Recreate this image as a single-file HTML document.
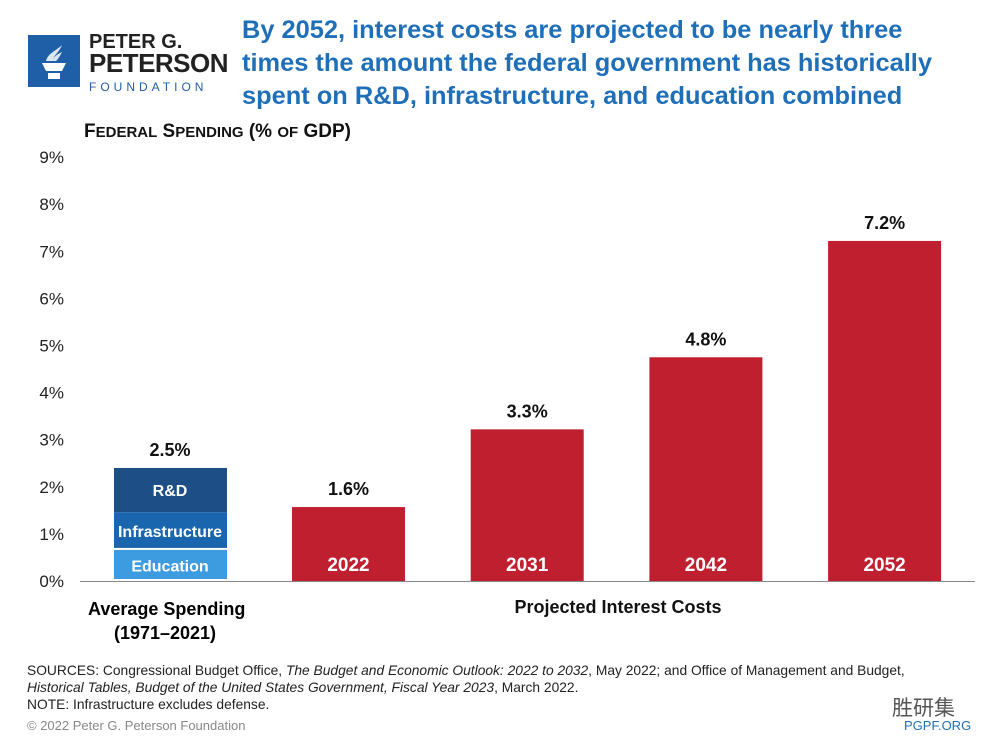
<!DOCTYPE html>
<html><head><meta charset="utf-8"><style>
body{margin:0;width:1000px;height:750px;background:#fff;font-family:"Liberation Sans",sans-serif;overflow:hidden;position:relative}
.t{position:absolute;white-space:nowrap}
</style></head><body>
<div class="t" style="left:28px;top:35px;width:52px;height:52px;background:#1f5fa8">
<svg width="52" height="52"><path d="M14 28h24l-4 8h-16z M20 38h12v6h-12z" fill="#fff"/><path d="M18 26c2-8 10-10 16-16c-2 6-8 10-10 16z M24 26c2-5 6-7 10-9c-2 4-4 7-6 9z" fill="#fff" opacity=".85"/></svg></div>
<div class="t" style="left:89px;top:33px;font-weight:bold;font-size:20px;line-height:18px;color:#222">PETER G.<br><span style="font-size:26px;line-height:25px;letter-spacing:-0.5px">PETERSON</span><br><span style="font-size:12px;letter-spacing:4px;color:#1f5fa8;font-weight:normal">FOUNDATION</span></div>
<div class="t" style="left:242px;top:14px;font-weight:bold;font-size:25.4px;line-height:33px;color:#1f6fb8">By 2052, interest costs are projected to be nearly three<br>times the amount the federal government has historically<br>spent on R&amp;D, infrastructure, and education combined</div>
<div class="t" style="left:84px;top:121px;font-weight:bold;font-size:19px;color:#111">F<span style="font-size:15px">EDERAL</span> S<span style="font-size:15px">PENDING</span> (% <span style="font-size:15px">OF</span> GDP)</div>
<svg id="c" width="1000" height="750" style="position:absolute;left:0;top:0"></svg>
<div class="t" style="left:88px;top:597px;font-weight:bold;font-size:18px;line-height:24px;text-align:center;width:154px">Average Spending<br>(1971–2021)</div>
<div class="t" style="left:500px;top:597px;font-weight:bold;font-size:18px;color:#111;width:236px;text-align:center">Projected Interest Costs</div>
<div class="t" style="left:27px;top:662px;font-size:13.8px;line-height:17px;color:#222">SOURCES: Congressional Budget Office, <i>The Budget and Economic Outlook: 2022 to 2032</i>, May 2022; and Office of Management and Budget,<br><i>Historical Tables, Budget of the United States Government, Fiscal Year 2023</i>, March 2022.<br>NOTE: Infrastructure excludes defense.</div>
<div class="t" style="left:27px;top:718px;font-size:13px;color:#888">© 2022 Peter G. Peterson Foundation</div>
<div class="t" style="left:904px;top:718px;font-size:13px;color:#1f6fb8">PGPF.ORG</div>
<div class="t" style="left:892px;top:692px;font-size:21px;color:#555;font-family:'Liberation Sans','Noto Sans CJK SC',sans-serif">胜研集</div>
<script>
const ticks=[0,1,2,3,4,5,6,7,8,9];
const stackNames=["Education","Infrastructure","R&D"];
const stackValues=[0.66,0.8,0.94];
const stackTotalLabel="2.5%";
const years=["2022","2031","2042","2052"];
const interest=[1.57,3.22,4.75,7.22];
const interestLabels=["1.6%","3.3%","4.8%","7.2%"];
const NS="http://www.w3.org/2000/svg",svg=document.getElementById('c');
const y=v=>581-v*47.1;
function mk(t,a,txt){const e=document.createElementNS(NS,t);for(const k in a)e.setAttribute(k,a[k]);if(txt!=null)e.textContent=txt;svg.appendChild(e);return e;}
ticks.forEach(t=>{const e=mk('text',{x:64,y:y(t)+6,'text-anchor':'end','font-size':17,fill:'#222','font-family':'Liberation Sans'},t+'%');

});
const cols=["#3d9be0","#1a66ae","#1d4f86"];
let base=0;
stackValues.forEach((v,i)=>{const top=y(base+v),bot=y(base);
const r=mk('rect',{x:114,y:top,width:113,height:bot-top-(i<2?2:0),fill:cols[i]});


const t=mk('text',{x:170,y:(top+bot)/2+6,'text-anchor':'middle','font-size':16,'font-weight':'bold',fill:'#fff','font-family':'Liberation Sans'},stackNames[i]);


base+=v;});
const tl=mk('text',{x:170,y:y(base)-12,'text-anchor':'middle','font-size':18,'font-weight':'bold',fill:'#111','font-family':'Liberation Sans'},stackTotalLabel);


years.forEach((yr,i)=>{const x=292+i*178.7;
const r=mk('rect',{x:x,y:y(interest[i]),width:113,height:581-y(interest[i]),fill:'#c01f2f'});


const a=mk('text',{x:x+56.5,y:571,'text-anchor':'middle','font-size':19,'font-weight':'bold',fill:'#fff','font-family':'Liberation Sans'},yr);


const b=mk('text',{x:x+56.5,y:y(interest[i])-12,'text-anchor':'middle','font-size':18,'font-weight':'bold',fill:'#111','font-family':'Liberation Sans'},interestLabels[i]);

});
const ax=mk('line',{x1:80,x2:975,y1:581.5,y2:581.5,stroke:'#888','stroke-width':1});


</script>
</body></html>
